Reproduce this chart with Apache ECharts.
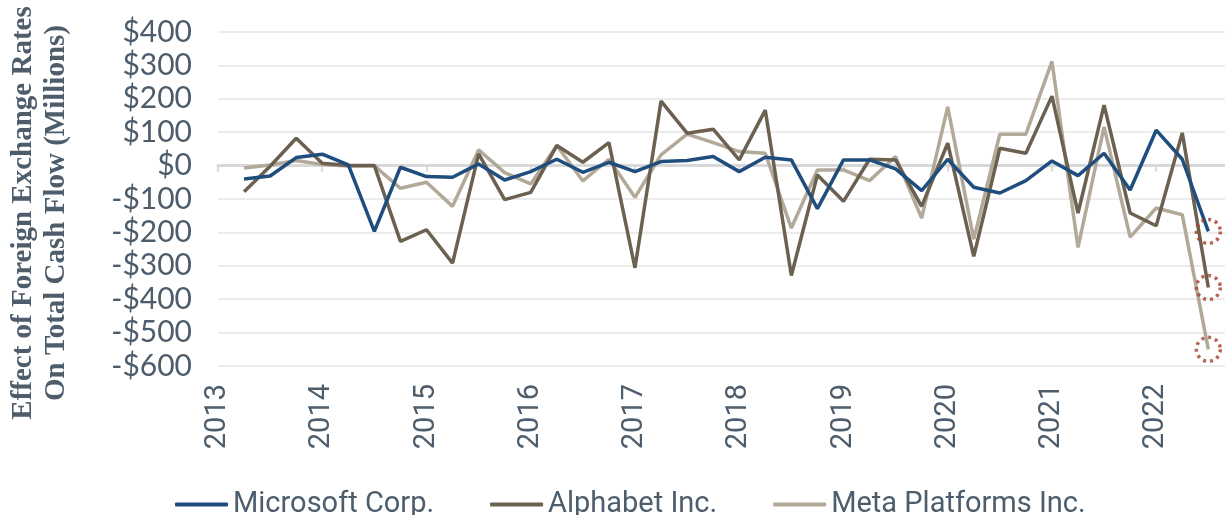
<!DOCTYPE html>
<html>
<head>
<meta charset="utf-8">
<script src="https://cdn.jsdelivr.net/npm/echarts@6/dist/echarts.min.js"></script>
<style>
  html, body { margin: 0; padding: 0; background: #fff; }
  #chart { width: 1225px; height: 515px; }
</style>
</head>
<body>
<div id="chart"></div>
<script>
// quarterly FX effect on cash flow, $ millions, first quarter = 2013.25
const firstQuarter = 2013.25
const seriesNames = ['Microsoft Corp.', 'Alphabet Inc.', 'Meta Platforms Inc.']
const msft = [-40, -31, 24, 34, 2, -197, -5, -33, -35, 5, -43, -18, 19, -20, 10, -18, 12, 15, 27, -18,
  25, 17, -129, 17, 17, -10, -75, 19, -65, -82, -45, 14, -30, 37, -73, 106, 19, -197]
const googl = [-78, -2, 82, 7, 0, 0, -227, -192, -292, 35, -102, -80, 60, 10, 69, -306, 193, 97, 109, 17,
  166, -329, -28, -107, 19, 17, -122, 67, -272, 52, 37, 208, -142, 181, -142, -180, 98, -365]
const meta = [-7, 2, 15, 3, -1, -1, -68, -50, -122, 47, -21, -55, 60, -46, 19, -95, 32, 94, 69, 42,
  37, -187, -13, -13, -45, 27, -157, 176, -220, 94, 94, 312, -245, 116, -214, -127, -147, -550]
const yTicks = { min: -600, max: 400, step: 100 }
const colors = ['#1f4e7e', '#6c6151', '#b2a999']

const quarters = msft.map((_, i) => firstQuarter + i * 0.25)
const pairs = vals => vals.map((v, i) => [quarters[i], v])
const last = vals => [quarters[vals.length - 1], vals[vals.length - 1]]

const textColor = '#4d5d6c'
const chart = echarts.init(document.getElementById('chart'))

const lineSeries = [msft, googl, meta].map((vals, i) => ({
  name: seriesNames[i],
  type: 'line',
  data: pairs(vals),
  showSymbol: false,
  symbol: 'none',
  lineStyle: { width: 3.5, color: colors[i] },
  itemStyle: { color: colors[i] },
  z: 3 - i
}))

chart.setOption({
  animation: false,
  color: colors,
  grid: { left: 218, right: 0, top: 32, bottom: 149 },
  legend: {
    data: seriesNames,
    left: 170,
    top: 485,
    icon: 'roundRect',
    itemWidth: 53,
    itemHeight: 4,
    itemGap: 56,
    textStyle: { color: textColor, fontFamily: 'Roboto', fontSize: 29 }
  },
  graphic: [{
    type: 'text',
    x: 40,
    y: 213,
    rotation: Math.PI / 2,
    style: {
      text: 'Effect of Foreign Exchange Rates\nOn Total Cash Flow (Millions)',
      align: 'center',
      verticalAlign: 'middle',
      fill: textColor,
      font: 'bold 29px "Liberation Serif"',
      lineHeight: 33
    }
  }],
  xAxis: {
    type: 'value',
    min: 2013,
    max: 2022.66,
    interval: 1,
    axisLine: { lineStyle: { color: '#d8d8d8', width: 3 } },
    axisTick: { show: true, length: 6, lineStyle: { color: '#d8d8d8', width: 2 } },
    splitLine: { show: false },
    axisLabel: {
      rotate: 90,
      margin: 18,
      showMaxLabel: false,
      color: textColor,
      fontFamily: 'Roboto',
      fontSize: 29,
      formatter: v => (Number.isInteger(v) ? String(v) : '')
    }
  },
  yAxis: {
    type: 'value',
    min: yTicks.min,
    max: yTicks.max,
    interval: yTicks.step,
    axisLine: { show: false },
    axisTick: { show: false },
    splitLine: { lineStyle: { color: '#ececec', width: 2 } },
    axisLabel: {
      margin: 26,
      color: textColor,
      fontFamily: 'Lato',
      fontSize: 30,
      formatter: v => (v < 0 ? '-$' + Math.abs(v) : '$' + v)
    }
  },
  series: [
    ...lineSeries,
    {
      name: 'highlight',
      type: 'scatter',
      data: [last(msft), last(googl), last(meta)],
      symbol: 'circle',
      symbolSize: 24,
      silent: true,
      itemStyle: {
        color: 'rgba(0,0,0,0)',
        borderColor: '#a3412c',
        borderWidth: 3.5,
        borderType: [3, 4]
      },
      z: 5
    }
  ]
})
</script>
</body>
</html>
